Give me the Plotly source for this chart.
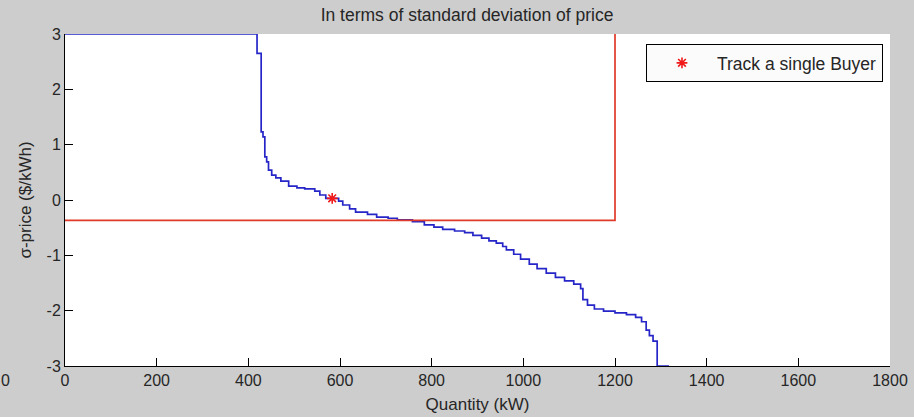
import plotly.graph_objects as go

# supply curve (stair steps): quantity where step happens, sigma-price after step
curve_x = [0, 419, 428, 432, 436, 440, 444, 451, 460, 471, 488, 506, 523, 545, 556, 569,
           597, 606, 621, 634, 660, 680, 705, 725, 758, 784, 805, 824, 850, 872, 890, 909,
           925, 941, 955, 963, 979, 994, 1013, 1030, 1050, 1070, 1090, 1110, 1125, 1130,
           1140, 1155, 1175, 1200, 1225, 1245, 1258, 1268, 1275, 1283, 1292, 1318]
curve_y = [3.0, 2.65, 1.23, 1.14, 0.78, 0.69, 0.54, 0.45, 0.40, 0.34, 0.25, 0.22, 0.20, 0.16, 0.09, 0.03,
           -0.02, -0.09, -0.16, -0.22, -0.26, -0.31, -0.33, -0.36, -0.39, -0.45, -0.49, -0.53, -0.56, -0.59, -0.64, -0.69,
           -0.74, -0.78, -0.84, -0.90, -0.98, -1.07, -1.16, -1.24, -1.32, -1.40, -1.46, -1.52, -1.60, -1.80,
           -1.90, -1.97, -2.01, -2.04, -2.07, -2.12, -2.20, -2.35, -2.45, -2.55, -3.0, -3.0]

# red bound lines
bound_x = [0, 1200, 1200]
bound_y = [-0.37, -0.37, 3.0]

# tracked buyer
buyer_x = [583]
buyer_y = [0.03]

x_ticks = [0, 200, 400, 600, 800, 1000, 1200, 1400, 1600, 1800]
x_labels = ["0", "200", "400", "600", "800", "1000", "1200", "1400", "1600", "1800"]
y_ticks = [-3, -2, -1, 0, 1, 2, 3]
y_labels = ["-3", "-2", "-1", "0", "1", "2", "3"]

FONT = "Arial, Liberation Sans, sans-serif"

fig = go.Figure()
fig.add_trace(go.Scatter(x=curve_x, y=curve_y, mode="lines", line_shape="hv",
                         line=dict(color="#2626c8", width=1.7), showlegend=False))
fig.add_trace(go.Scatter(x=bound_x, y=bound_y, mode="lines",
                         line=dict(color="#e03a28", width=1.7), showlegend=False))
fig.add_trace(go.Scatter(x=buyer_x, y=buyer_y, mode="markers", name="Track a single Buyer",
                         marker=dict(symbol="asterisk-open", color="#f01818", size=9,
                                     line=dict(color="#f01818", width=1.6))))

fig.update_layout(
    width=914, height=417,
    margin=dict(l=65, r=24, t=34, b=51, autoexpand=False),
    paper_bgcolor="#cdcdcd", plot_bgcolor="#ffffff",
    font=dict(family=FONT, size=16, color="#262626"),
    title=dict(text="In terms of standard deviation of price", x=0.511, xanchor="center",
               y=0.965, yanchor="middle", font=dict(size=17.5, color="#262626")),
    legend=dict(x=0.9915, xanchor="right", y=0.97, yanchor="top", itemwidth=60,
                bgcolor="#fbfbfb", bordercolor="#000000", borderwidth=1,
                font=dict(size=17.5, color="#262626")),
    xaxis=dict(range=[0, 1800], tickvals=x_ticks, ticktext=x_labels, ticks="inside", ticklen=8,
               tickcolor="#000", showline=True, linecolor="#000", linewidth=1, showgrid=False,
               zeroline=False, automargin=False,
               title=dict(text="Quantity (kW)", standoff=9, font=dict(size=17)),
               tickfont=dict(size=16)),
    yaxis=dict(range=[-3, 3], tickvals=y_ticks, ticktext=y_labels, ticks="inside", ticklen=8,
               tickcolor="#000", showline=True, linecolor="#000", linewidth=1, showgrid=False,
               zeroline=False, automargin=False,
               title=dict(text="σ-price ($/kWh)", standoff=10, font=dict(size=17)),
               tickfont=dict(size=16)),
    annotations=[dict(text="0", xref="paper", yref="paper", x=-60/825, y=-14/332,
                      xanchor="center", yanchor="middle", showarrow=False,
                      font=dict(size=16, color="#262626"))],
)

fig.write_html("out.html")
